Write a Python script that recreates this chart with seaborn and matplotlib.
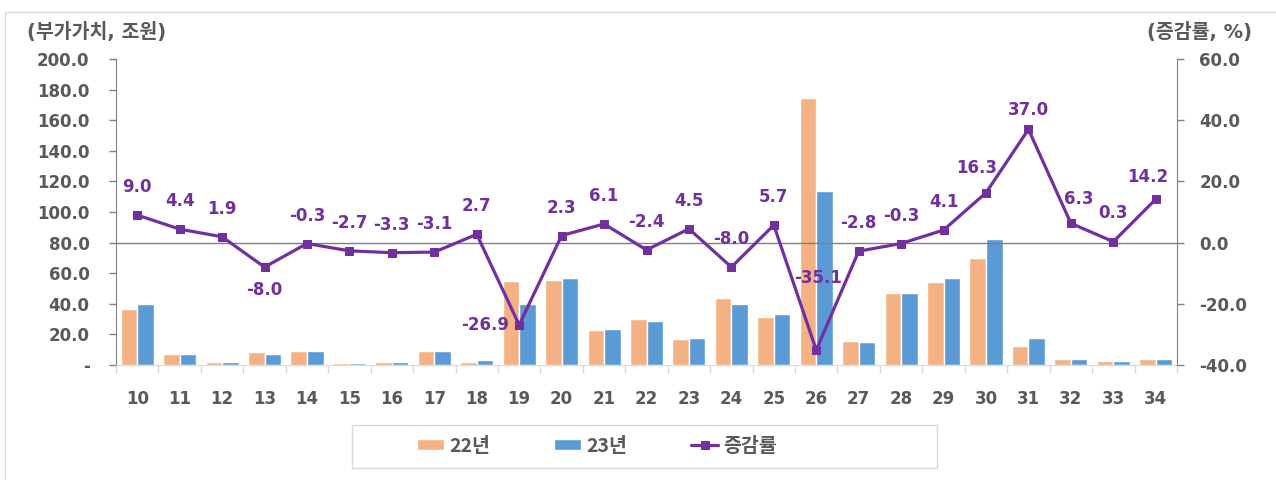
import numpy as np
import pandas as pd
import matplotlib.pyplot as plt
from matplotlib.patches import Rectangle
import seaborn as sns

# data
industries = ['10', '11', '12', '13', '14', '15', '16', '17', '18', '19', '20', '21',
              '22', '23', '24', '25', '26', '27', '28', '29', '30', '31', '32', '33', '34']
value_22 = [36.9, 7.2, 2.2, 8.3, 9.2, 1.3, 2.2, 8.9, 2.2, 55.0, 55.8, 22.9,
            29.9, 16.8, 43.6, 31.6, 174.3, 15.9, 47.3, 54.3, 70.2, 12.4, 3.7, 2.8, 3.7]
value_23 = [40.1, 7.2, 2.2, 7.2, 9.2, 1.3, 2.2, 9.2, 3.0, 40.1, 56.9, 23.8,
            29.0, 17.7, 40.1, 33.4, 113.4, 15.0, 47.3, 56.9, 82.2, 17.7, 3.7, 2.8, 3.7]
growth = [9.0, 4.4, 1.9, -8.0, -0.3, -2.7, -3.3, -3.1, 2.7, -26.9, 2.3, 6.1,
          -2.4, 4.5, -8.0, 5.7, -35.1, -2.8, -0.3, 4.1, 16.3, 37.0, 6.3, 0.3, 14.2]
years = ['22년', '23년']
left_ticks = [0, 20, 40, 60, 80, 100, 120, 140, 160, 180, 200]
right_ticks = [-40, -20, 0, 20, 40, 60]

ORANGE = '#F4B183'
BLUE = '#5B9BD5'
PURPLE = '#7030A0'
GREY = '#595959'

sns.set_style('white')
plt.rcParams['font.family'] = ['DejaVu Sans', 'Noto Sans CJK KR']

df = pd.DataFrame({
    '산업': industries * 2,
    '부가가치': value_22 + value_23,
    '연도': [years[0]] * len(industries) + [years[1]] * len(industries),
})

fig = plt.figure(figsize=(12.76, 4.8), dpi=100)
ax = fig.add_axes([116 / 1276, 1 - 365 / 480, (1177 - 116) / 1276, (365 - 59) / 480])

sns.barplot(data=df, x='산업', y='부가가치', hue='연도', hue_order=years,
            palette=[ORANGE, BLUE], saturation=1, width=0.78, errorbar=None, ax=ax)
ax.get_legend().remove()

ax2 = ax.twinx()
pos = np.arange(len(industries))
ax2.axhline(0, color='#808080', linewidth=1, zorder=1)
sns.lineplot(x=pos, y=growth, ax=ax2, color=PURPLE, linewidth=2.3, marker='s',
             markersize=6, markeredgecolor=PURPLE, label='증감률', zorder=3)
ax2.get_legend().remove()

# label offsets in pixels (default: just above the point)
offsets = {3: (0, -23), 9: (-34, 0), 16: (2, 72), 20: (-9, 25), 21: (0, 19),
           22: (8, 24), 23: (0, 29), 24: (-8, 22)}
for i, g in enumerate(growth):
    dx, dy = offsets.get(i, (0, 28))
    ax2.annotate(f'{g:.1f}', (i, g), xytext=(dx, dy), textcoords='offset pixels',
                 ha='center', va='center', fontsize=12, fontweight='bold',
                 color=PURPLE, zorder=4)

ax.set_xlim(-0.5, len(industries) - 0.5)
ax.set_ylim(0, 200)
ax2.set_ylim(-40, 60)
ax.set_yticks(left_ticks)
ax.set_yticklabels(['-' if v == 0 else f'{v:.1f}' for v in left_ticks])
ax2.set_yticks(right_ticks)
ax2.set_yticklabels([f'{v:.1f}' for v in right_ticks])
ax.set_xlabel('')
ax.set_ylabel('')
ax2.set_ylabel('')

for a in (ax, ax2):
    a.spines['top'].set_visible(False)
    a.grid(False)
ax.spines['left'].set_color('#808080')
ax.spines['right'].set_visible(False)
ax2.spines['right'].set_color('#808080')
ax2.spines['left'].set_visible(False)
ax2.spines['bottom'].set_visible(False)
ax.spines['bottom'].set_color('#d9d9d9')

ax.tick_params(axis='y', which='major', left=True, length=5, width=1, color='#808080',
               pad=14, labelsize=12, labelcolor=GREY)
ax2.tick_params(axis='y', which='major', right=True, length=5, width=1, color='#808080',
                pad=11, labelsize=12, labelcolor=GREY)
ax.set_xticks(np.arange(-0.5, len(industries), 1), minor=True)
ax.tick_params(axis='x', which='minor', bottom=True, length=6, width=1, color='#d9d9d9')
ax.tick_params(axis='x', which='major', bottom=False, length=0, pad=18,
               labelsize=12, labelcolor=GREY)
for t in ax.get_xticklabels() + ax.get_yticklabels() + ax2.get_yticklabels():
    t.set_fontweight('bold')

fig.text(27 / 1276, 1 - 32 / 480, '(부가가치, 조원)', ha='left', va='center',
         fontsize=14, fontweight='bold', color=GREY)
fig.text(1252 / 1276, 1 - 32 / 480, '(증감률, %)', ha='right', va='center',
         fontsize=14, fontweight='bold', color=GREY)

# outer frame and legend frame
fig.patches.append(Rectangle((5 / 1276, -0.05), 1.1, 1 - 12 / 480 + 0.05,
                             transform=fig.transFigure, fill=False,
                             edgecolor='#d9d9d9', linewidth=1))
fig.patches.append(Rectangle((352 / 1276, 1 - 468 / 480), (937 - 352) / 1276, 43 / 480,
                             transform=fig.transFigure, fill=False,
                             edgecolor='#d9d9d9', linewidth=1))

handles, _ = ax.get_legend_handles_labels()
h2, _ = ax2.get_legend_handles_labels()
leg = fig.legend(handles + h2, years + ['증감률'], loc='center',
                 bbox_to_anchor=(597 / 1276, 1 - 446 / 480), ncol=3, frameon=False,
                 handlelength=1.4, handleheight=0.5, handletextpad=0.25,
                 columnspacing=3.3,
                 prop={'family': 'Noto Sans CJK KR', 'size': 14, 'weight': 'bold'})
for t in leg.get_texts():
    t.set_color(GREY)

fig.savefig('out.png', dpi=100)
